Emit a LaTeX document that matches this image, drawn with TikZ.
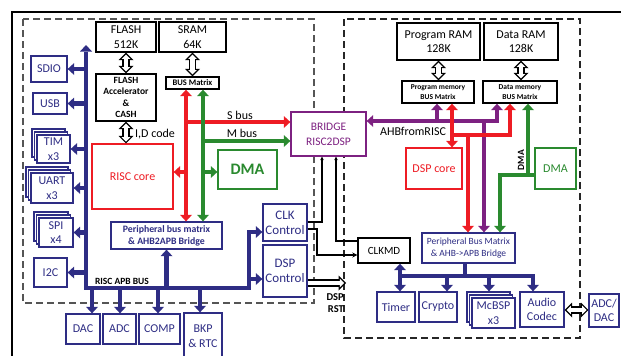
\documentclass[tikz,border=0pt]{standalone}
\usepackage{fontspec}
\setmainfont{Carlito}
\usetikzlibrary{arrows.meta,shadows}
\definecolor{navyBlue}{HTML}{2E2D84}
\definecolor{busRed}{HTML}{EE1C24}
\definecolor{busGreen}{HTML}{2A8A2F}
\definecolor{busPurple}{HTML}{7D2181}
\definecolor{dashGray}{HTML}{555555}

\begin{document}
\begin{tikzpicture}[x=1pt,y=-1pt,>={Triangle[length=6.5pt,width=12pt,line width=0pt]},
    box/.style={draw=navyBlue,line width=1.3pt,fill=white,text=navyBlue,align=center,
      inner sep=0pt,font=\fontsize{12}{14.5}\selectfont},
    mem/.style={box,draw=black,text=black,line width=1.4pt},
    stackbox/.style={box,
      copy shadow={shadow xshift=-5pt,shadow yshift=6pt,draw=navyBlue,line width=1.3pt,fill=white},
      copy shadow={shadow xshift=-2.5pt,shadow yshift=3pt,draw=navyBlue,line width=1.3pt,fill=white}},
    wh/.style 2 args={minimum width=#1pt,minimum height=#2pt},
    lbl/.style={inner sep=0pt,font=\fontsize{12}{14}\selectfont},
    navybus/.style={draw=navyBlue,line width=4.5pt},
    redbus/.style={draw=busRed,line width=4.5pt},
    greenbus/.style={draw=busGreen,line width=4.5pt},
    purplebus/.style={draw=busPurple,line width=4.5pt},
    wire/.style={draw=black,line width=1.1pt},
    hollow/.style={draw=black,line width=7.5pt,
      {Triangle[length=7.5pt,width=15pt,line width=0pt]}-{Triangle[length=7.5pt,width=15pt,line width=0pt]},
      postaction={draw=white,line width=4.9pt,shorten <=1.85pt,shorten >=1.85pt,
        {Triangle[length=4.35pt,width=8.7pt,line width=0pt]}-{Triangle[length=4.35pt,width=8.7pt,line width=0pt]}}},
    hollowend/.style={draw=black,line width=7.5pt,
      -{Triangle[length=7.5pt,width=15pt,line width=0pt]},
      postaction={draw=white,line width=4.9pt,shorten >=1.85pt,
        -{Triangle[length=4.35pt,width=8.7pt,line width=0pt]}}}]
  \useasboundingbox (0,0) rectangle (621,356);
  % frame and the two domains
  \draw[black,line width=1.4pt] (621,12) -- (12,12) -- (12,356);
  \draw[dashGray,line width=1.3pt,dash pattern=on 7pt off 4pt] (23,19) rectangle (314,303);
  \draw[black!85,line width=1.3pt,dash pattern=on 7pt off 4pt] (344,19) rectangle (580,338);

  % RISC side
  \node[mem,wh={60}{30}] (flash) at (126,37) {FLASH\\512K};
  \node[mem,wh={67}{30}] (sram) at (192.5,37) {SRAM\\64K};
  \node[mem,wh={60}{47},font=\bfseries\fontsize{9.5}{11.5}\selectfont] (flashacc) at (126,97.5) {FLASH\\Accelerator\\\&\\CASH};
  \node[mem,wh={53}{12},font=\bfseries\fontsize{8.5}{10}\selectfont] (busmx) at (192.5,83) {BUS Matrix};
  \node[box,wh={36}{26}] (sdio) at (49,69) {SDIO};
  \node[box,wh={34}{21}] (usb) at (50,103.5) {USB};
  \node[stackbox,wh={33}{28}] (tim) at (53.5,149) {TIM\\x3};
  \node[stackbox,wh={42}{30}] (uart) at (52,188) {UART\\x3};
  \node[stackbox,wh={34}{29}] (spi) at (56,232.5) {SPI\\x4};
  \node[box,wh={33}{29}] (i2c) at (50.5,272.5) {I2C};
  \node[box,draw=busRed,text=busRed,wh={81}{65}] (risc) at (132.5,176.5) {RISC core};
  \node[box,draw=busGreen,text=busGreen,wh={59}{39},font=\bfseries\fontsize{16}{18}\selectfont] (dma) at (247.5,169.5) {DMA};
  \node[box,wh={111}{27},font=\bfseries\fontsize{9.8}{12}\selectfont] (pbm) at (166.5,235.5) {Peripheral bus matrix\\\& AHB2APB Bridge};
  \node[box,wh={44}{37},font=\fontsize{13}{15}\selectfont] (clkc) at (285,222.5) {CLK\\Control};
  \node[box,wh={44}{52},font=\fontsize{13}{15}\selectfont] (dspc) at (285,271) {DSP\\Control};
  \node[box,draw=busPurple,text=busPurple,wh={75}{44},font=\fontsize{11.5}{15}\selectfont] (bridge) at (328.5,134) {BRIDGE\\RISC2DSP};
  \node[box,wh={34}{30}] (dac) at (83,329) {DAC};
  \node[box,wh={33}{30}] (adc) at (119.5,329) {ADC};
  \node[box,wh={41}{30}] (comp) at (159.5,329) {COMP};
  \node[box,wh={38}{46}] (bkp) at (203,336) {BKP\\\& RTC};

  % DSP side
  \node[mem,wh={83}{37}] (pram) at (438.5,41.5) {Program RAM\\128K};
  \node[mem,wh={74}{37}] (dram) at (521,41.5) {Data RAM\\128K};
  \node[mem,wh={72}{22},font=\bfseries\fontsize{7.5}{10}\selectfont] (pmbm) at (438,92) {Program memory\\BUS Matrix};
  \node[mem,wh={74}{22},font=\bfseries\fontsize{7.5}{10}\selectfont] (dmbm) at (520,92) {Data memory\\BUS Matrix};
  \node[box,draw=busRed,text=busRed,wh={56}{41}] (dspcore) at (434,168.5) {DSP core};
  \node[box,draw=busGreen,text=busGreen,wh={41}{41}] (dma2) at (555.5,168.5) {DMA};
  \node[box,wh={93}{30},font=\fontsize{9.5}{11.7}\selectfont] (pbm2) at (468.5,248) {Peripheral Bus Matrix\\\& AHB->APB Bridge};
  \node[mem,wh={52}{25},font=\fontsize{11}{13}\selectfont] (clkmd) at (384,250.5) {CLKMD};
  \node[box,wh={38}{30}] (timer) at (396,307) {Timer};
  \node[box,wh={38}{30}] (crypto) at (438,307) {Crypto};
  \node[stackbox,wh={43}{30}] (mcbsp) at (493.5,313) {McBSP\\x3};
  \node[box,wh={44}{35}] (audio) at (542,309.5) {Audio\\Codec};
  \node[box,wh={30}{33}] (adcdac) at (604,310.5) {ADC/\\DAC};

  % memory links
  \draw[hollow] (flash) -- (flashacc);
  \draw[hollow] (sram) -- (busmx);
  \draw[hollow] (flashacc.south) -- (flashacc.south |- risc.north);
  \node[lbl,anchor=west] (idcode) at (135,134) {I,D code};
  \draw[hollow] (pram.south) -- (pram.south |- pmbm.north);
  \draw[hollow] (dram.south) -- (dram.south |- dmbm.north);
  \draw[hollow] (audio.east |- 0,310) -- (adcdac.west |- 0,310);

  % RISC APB bus
  \coordinate (lbtop) at (86,45);
  \coordinate (lbcorner) at (86,288);
  \coordinate (rbcorner) at (249,288);
  \coordinate (apbtop) at (249,232);
  \draw[navybus,<->] (lbtop) -- (lbcorner) -- (rbcorner) -- (apbtop) -- (apbtop -| clkc.west);
  \draw[navybus,->] (rbcorner |- 0,279) -- (dspc.west |- 0,279);
  \foreach \b in {sdio,usb,tim,uart,spi,i2c}
    \draw[navybus,->] (lbtop |- \b.east) -- (\b.east);
  \foreach \b/\x in {dac/92,adc/120,comp/158,bkp/200}
    \draw[navybus,->] (\x,288) -- (\b.north -| \x,0);
  \draw[navybus,->] (pbm.south |- rbcorner) -- (pbm.south);
  \node[lbl,font=\bfseries\fontsize{9.5}{11}\selectfont] (apblbl) at (122,281) {RISC APB BUS};

  % S bus / M bus
  \draw[redbus,<->] (busmx.south -| 186,0) -- (pbm.north -| 186,0);
  \draw[redbus,->] (186,122) -- (bridge.west |- 0,122);
  \draw[redbus,->] (186,172) -- (risc.east |- 0,172);
  \draw[greenbus,<->] (busmx.south -| 203,0) -- (pbm.north -| 203,0);
  \draw[greenbus,->] (203,141) -- (bridge.west |- 0,141);
  \draw[greenbus,->] (203,172) -- (dma.west |- 0,172);
  \node[lbl] (sbus) at (240,115) {S bus};
  \node[lbl] (mbus) at (242,133) {M bus};

  % AHB from RISC
  \coordinate (ahbend) at (497,121);
  \draw[purplebus,<->] (bridge.east |- ahbend) -- (ahbend) -- (ahbend |- dmbm.south);
  \draw[purplebus,->] (437,121) -- (pmbm.south -| 437,0);
  \draw[purplebus,->] (484,121) -- (pbm2.north -| 484,0);
  \node[lbl] (ahblbl) at (413,131) {AHBfromRISC};

  % DSP core buses
  \draw[redbus,<->] (pmbm.south -| 452,0) -- (dspcore.north -| 452,0);
  \draw[redbus,->] (452,135) -- (510,135) -- (dmbm.south -| 510,0);
  \draw[redbus,->] (468,135) -- (pbm2.north -| 468,0);
  \draw[greenbus,<->] (dmbm.south -| 528,0) -- (528,175) -- (500,175) -- (pbm2.north -| 500,0);
  \draw[greenbus] (528,175) -- (dma2.west |- 0,175);
  \node[lbl,rotate=90,font=\bfseries\fontsize{9.5}{11}\selectfont] (dmalbl) at (521,160) {DMA};

  % DSP APB bus
  \coordinate (mcbtop) at ([yshift=6pt]mcbsp.north);
  \draw[navybus] (pbm2.south -| 465,0) -- (465,276);
  \draw[navybus,->] (400,276) -- (533,276) -- (audio.north -| 533,0);
  \draw[navybus,<->] (clkmd.south -| 400,0) -- (timer.north -| 400,0);
  \draw[navybus,->] (447,276) -- (crypto.north -| 447,0);
  \draw[navybus,->] (489,276) -- (mcbtop -| 489,0);

  % clocks and reset
  \draw[wire,-{Stealth[length=3.5pt,width=3.5pt]}] (clkc.east |- 0,222) -- (322,222) -- (bridge.south -| 322,0);
  \draw[wire,-{Stealth[length=5pt,width=5pt]}] (clkc.east |- 0,229) -- (317,229) -- (317,255) -- (clkmd.west |- 0,255);
  \draw[wire,-{Stealth[length=3.5pt,width=3.5pt]}] (clkmd.west |- 0,241) -- (336,241) -- (bridge.south -| 336,0);
  \coordinate (rstend) at (346,283);
  \draw[hollowend] (dspc.east |- rstend) -- (rstend);
  \node[lbl,font=\bfseries\fontsize{10.5}{12.5}\selectfont,align=right,anchor=north east] (dsprst) at (344,293) {DSP\\RST};
\end{tikzpicture}
\end{document}
